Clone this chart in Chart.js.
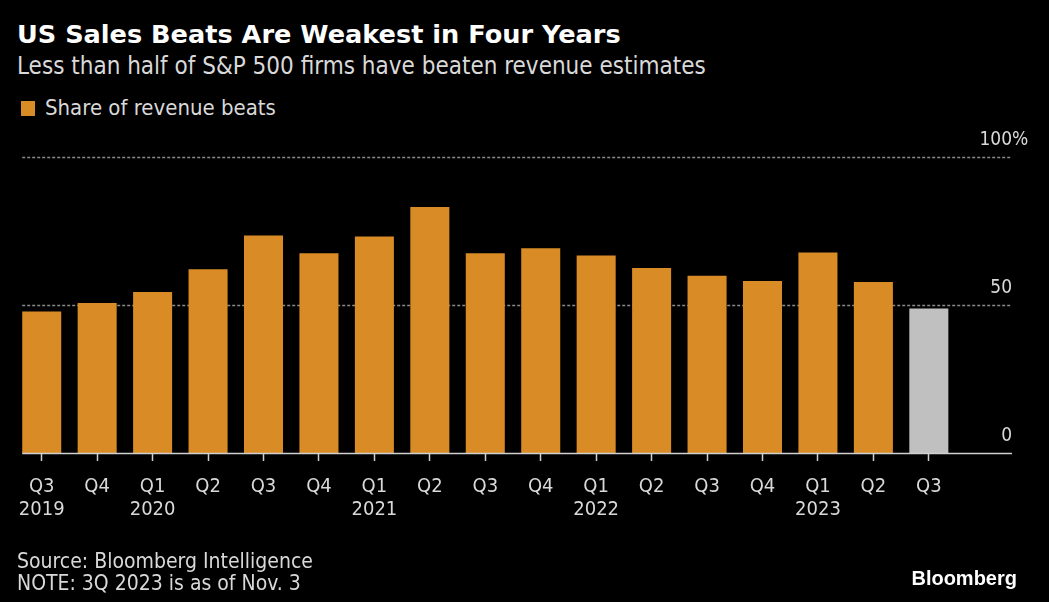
<!DOCTYPE html>
<html>
<head>
<meta charset="utf-8">
<title>US Sales Beats Are Weakest in Four Years</title>
<script src="https://cdn.jsdelivr.net/npm/chart.js@4.4.1/dist/chart.umd.min.js"></script>
<style>
  html, body { margin: 0; padding: 0; background: #000; }
  body {
    width: 1049px; height: 602px; position: relative; overflow: hidden;
    font-family: "DejaVu Sans Condensed", "Liberation Sans Narrow", sans-serif;
    color: #d9d9d9;
  }
  #chart { position: absolute; left: 0; top: 0; }
  .title {
    position: absolute; left: 17px; top: 19px;
    font-family: "DejaVu Sans", sans-serif; font-weight: bold; font-size: 25.6px;
    color: #fff; white-space: nowrap; line-height: 30px;
  }
  .subtitle {
    position: absolute; left: 17px; top: 52px;
    font-size: 24px; white-space: nowrap; line-height: 28px;
  }
  .legend {
    position: absolute; left: 21px; top: 95px; font-size: 22px; white-space: nowrap; line-height: 26px;
  }
  .legend .swatch {
    display: inline-block; width: 14px; height: 15px; background: #d98b26;
    vertical-align: -1px; margin-right: 10px;
  }
  .source {
    position: absolute; left: 17px; top: 550px; font-size: 21px; line-height: 22px;
  }
  .logo {
    position: absolute; right: 32px; top: 567px;
    font-family: "Liberation Sans", sans-serif; font-weight: bold; font-size: 20px; color: #fff;
  }
</style>
</head>
<body>
<div class="title">US Sales Beats Are Weakest in Four Years</div>
<div class="subtitle">Less than half of S&amp;P 500 firms have beaten revenue estimates</div>
<div class="legend"><span class="swatch"></span>Share of revenue beats</div>
<canvas id="chart" width="1049" height="602"></canvas>
<div class="source">Source: Bloomberg Intelligence<br>NOTE: 3Q 2023 is as of Nov. 3</div>
<div class="logo">Bloomberg</div>

<script>
// quarters shown on the x axis (last slot left empty, as in the original)
const quarters = ['Q3', 'Q4', 'Q1', 'Q2', 'Q3', 'Q4', 'Q1', 'Q2', 'Q3', 'Q4', 'Q1', 'Q2', 'Q3', 'Q4', 'Q1', 'Q2', 'Q3', ''];
const years = ['2019', '', '2020', '', '', '', '2021', '', '', '', '2022', '', '', '', '2023', '', '', ''];

// share of S&P 500 firms beating revenue estimates, %
const revenueBeats = [47.8, 50.7, 54.4, 62.1, 73.5, 67.5, 73.1, 83.1, 67.5, 69.2, 66.7, 62.5, 59.9, 58.1, 67.7, 57.8, 48.8];

const yTicks = [0, 50, 100];

const ORANGE = '#d98b26';
const GREY = '#c0c0c0';
const TEXT = '#d9d9d9';
const FONT = '"DejaVu Sans Condensed", "Liberation Sans Narrow", sans-serif';

const labels = quarters.map((q, i) => years[i] ? [q, years[i]] : [q]);
// last quarter is partial, drawn grey
const barColors = revenueBeats.map((v, i) => i === revenueBeats.length - 1 ? GREY : ORANGE);

const bbgAxes = {
    id: 'bbgAxes',
    beforeDatasetsDraw(chart) {
        const { ctx, chartArea, scales } = chart;
        const first = chart.getDatasetMeta(0).data[0];
        const left = first.x - first.width / 2;
        ctx.save();
        ctx.strokeStyle = '#8a8a8a';
        ctx.lineWidth = 1.5;
        ctx.setLineDash([3, 2]);
        yTicks.forEach(v => {
            if (v === 0) return;
            const y = Math.round(scales.y.getPixelForValue(v)) + 0.5;
            ctx.beginPath();
            ctx.moveTo(left, y);
            ctx.lineTo(chartArea.right, y);
            ctx.stroke();
        });
        ctx.restore();
    },
    afterDatasetsDraw(chart) {
        const { ctx, chartArea, scales } = chart;
        const first = chart.getDatasetMeta(0).data[0];
        const left = first.x - first.width / 2;
        ctx.save();
        // baseline
        const y0 = Math.round(scales.y.getPixelForValue(0)) + 0.5;
        ctx.strokeStyle = '#d0d0d0';
        ctx.lineWidth = 1.5;
        ctx.beginPath();
        ctx.moveTo(left, y0);
        ctx.lineTo(chartArea.right, y0);
        ctx.stroke();

        // y labels sit above their gridlines, right aligned
        ctx.font = '19px ' + FONT;
        ctx.fillStyle = TEXT;
        ctx.textBaseline = 'alphabetic';
        ctx.textAlign = 'left';
        yTicks.forEach(v => {
            const y = scales.y.getPixelForValue(v) - 12;
            const num = String(v);
            const x = chartArea.right - ctx.measureText(num).width;
            ctx.fillText(v === 100 ? num + '%' : num, x, y);
        });
        ctx.restore();
    }
};

new Chart(document.getElementById('chart'), {
    type: 'bar',
    data: {
        labels: labels,
        datasets: [{
            label: 'Share of revenue beats',
            data: revenueBeats,
            backgroundColor: barColors,
            borderWidth: 0,
            categoryPercentage: 1,
            barPercentage: 0.704
        }]
    },
    options: {
        responsive: false,
        animation: false,
        layout: {
            padding: { top: 157, left: 14, right: 37, bottom: 67 }
        },
        plugins: {
            legend: { display: false },
            tooltip: { enabled: false }
        },
        scales: {
            y: {
                display: false,
                min: 0,
                max: 100
            },
            x: {
                border: { display: false },
                grid: {
                    offset: false,
                    drawOnChartArea: false,
                    drawTicks: true,
                    tickLength: 8,
                    tickWidth: 1.5,
                    tickColor: ctx => ctx.index < revenueBeats.length ? '#d0d0d0' : 'rgba(0,0,0,0)'
                },
                ticks: {
                    color: TEXT,
                    padding: 14,
                    autoSkip: false,
                    maxRotation: 0,
                    font: { family: FONT, size: 20, lineHeight: 1.15 }
                }
            }
        }
    },
    plugins: [bbgAxes]
});
</script>
</body>
</html>
